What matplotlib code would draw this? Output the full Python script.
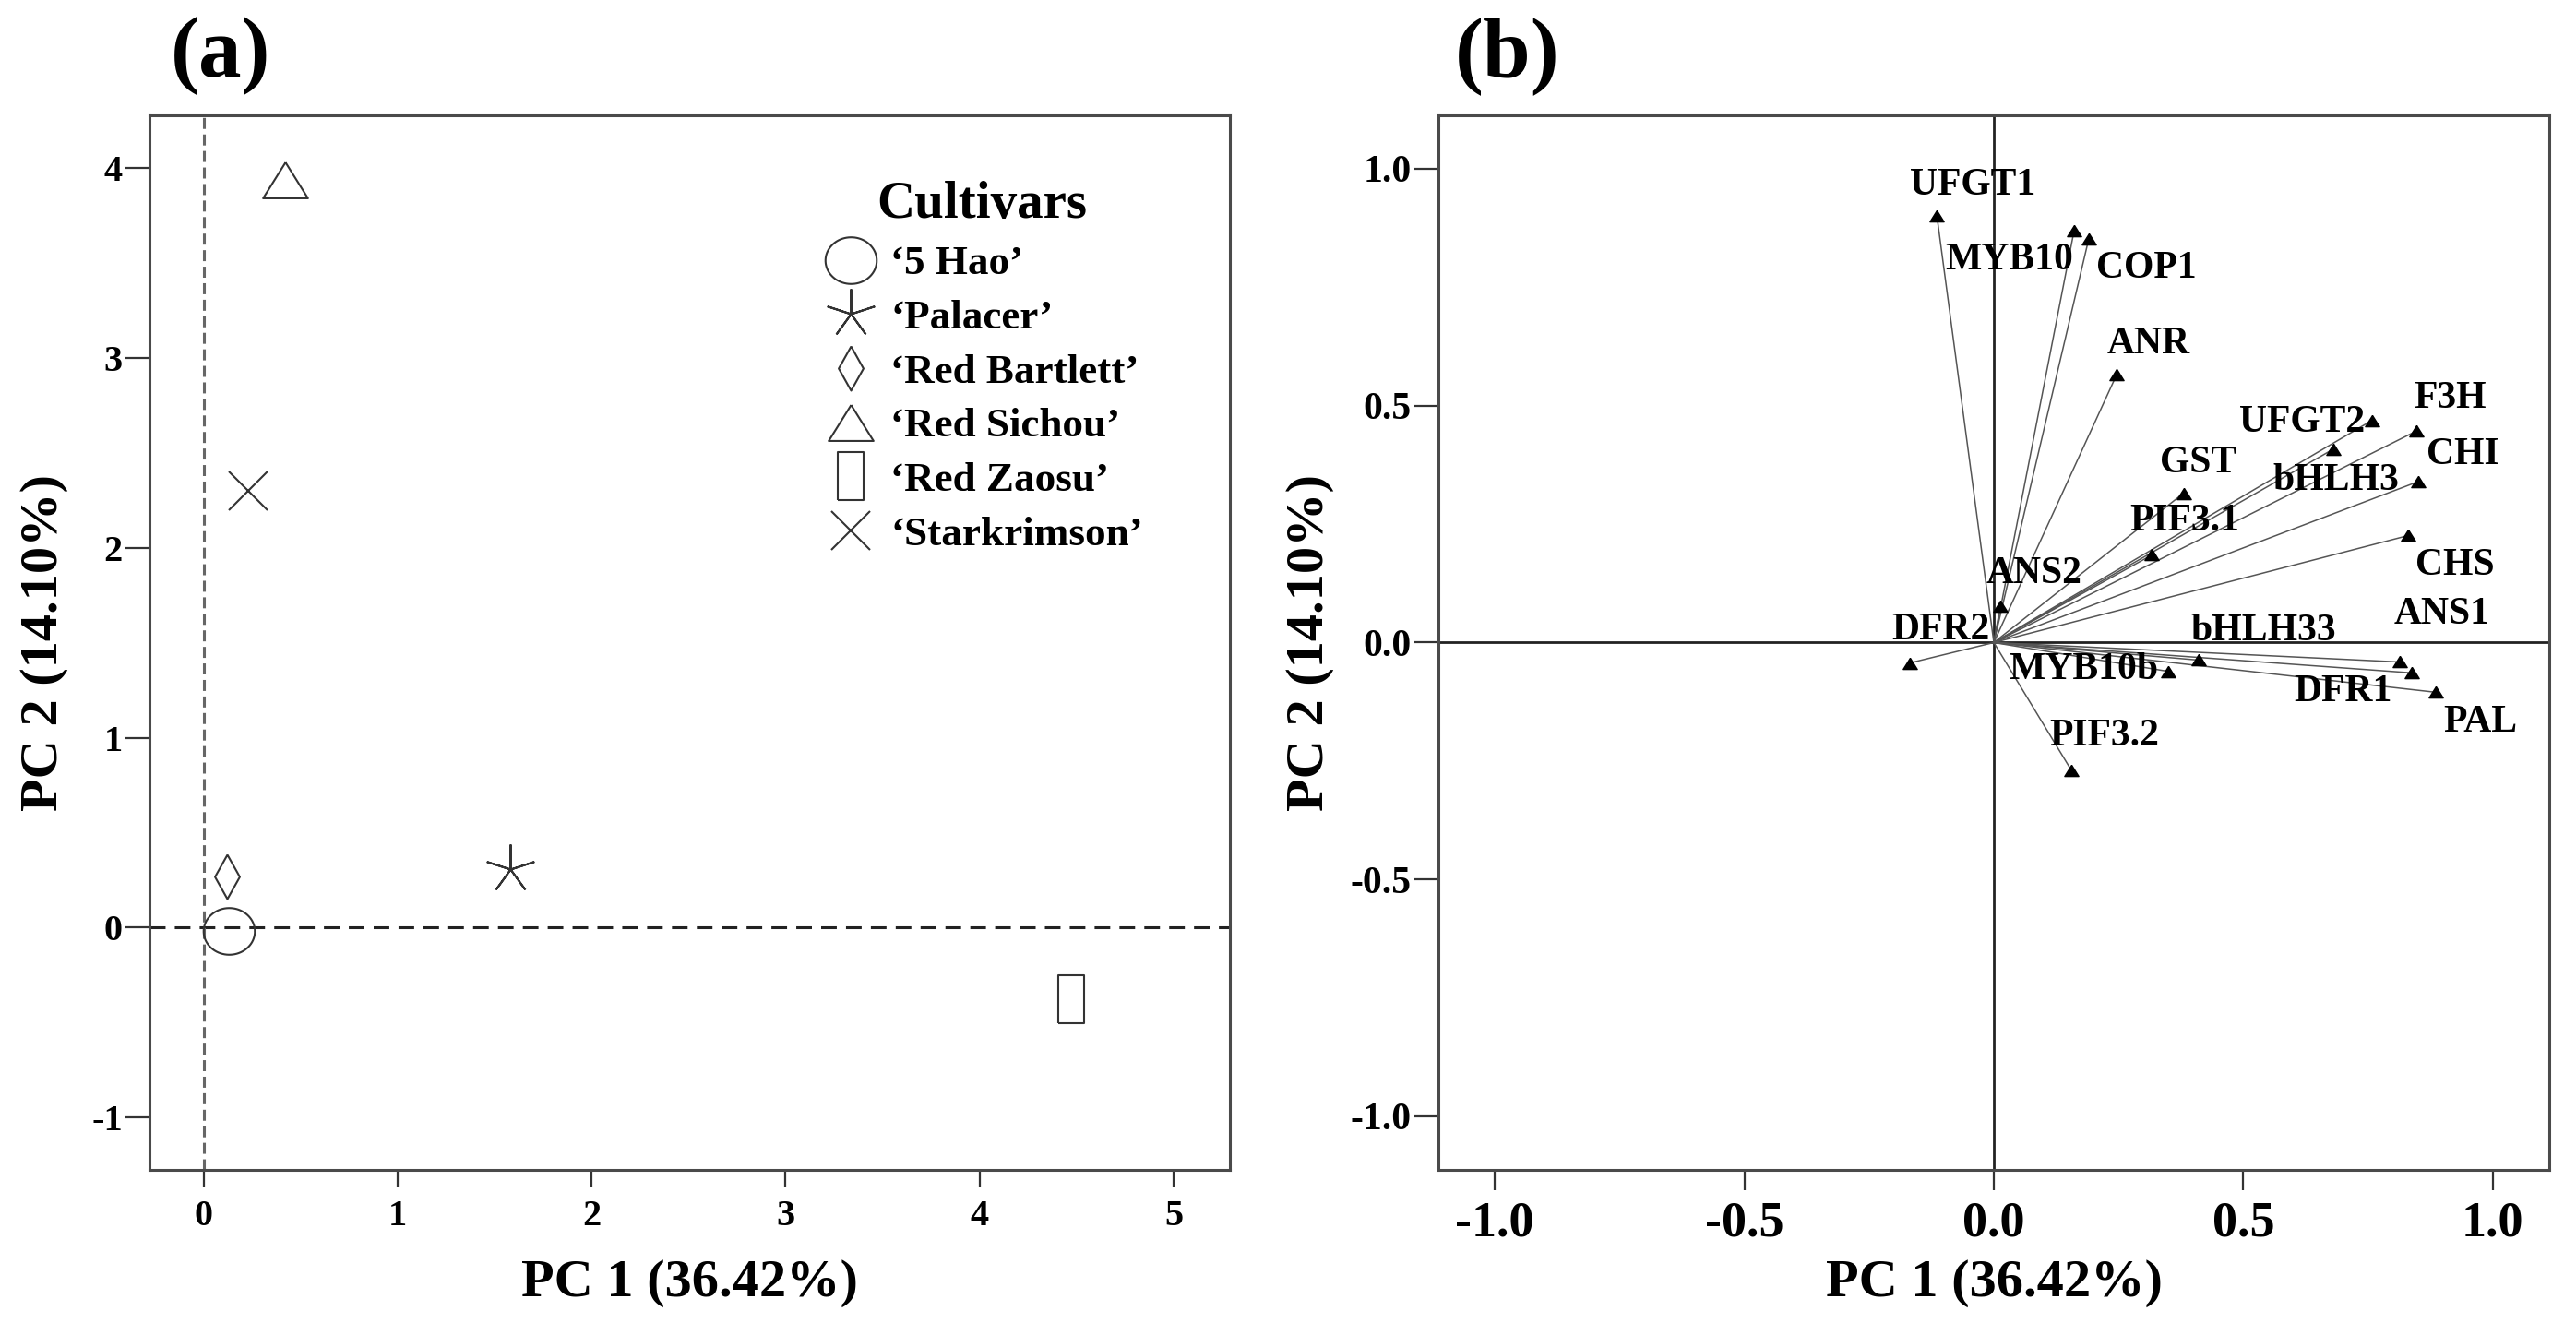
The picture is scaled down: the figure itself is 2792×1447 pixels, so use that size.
import numpy as np
import matplotlib
matplotlib.use("Agg")
import matplotlib.pyplot as plt
from matplotlib.ticker import FormatStrFormatter, MultipleLocator


# (a) cultivar scores on PC1 / PC2
CULTIVARS = ["\u20185 Hao\u2019", "\u2018Palacer\u2019", "\u2018Red Bartlett\u2019",
             "\u2018Red Sichou\u2019", "\u2018Red Zaosu\u2019", "\u2018Starkrimson\u2019"]
PC1_SCORES = [0.13, 1.58, 0.12, 0.42, 4.47, 0.23]
PC2_SCORES = [-0.02, 0.31, 0.27, 3.94, -0.38, 2.30]

# (b) gene loadings on PC1 / PC2
GENES = ["UFGT1", "MYB10", "COP1", "ANR", "UFGT2", "bHLH3", "F3H", "CHI", "CHS",
         "GST", "PIF3.1", "ANS2", "DFR2", "bHLH33", "MYB10b", "ANS1", "DFR1",
         "PAL", "PIF3.2"]
PC1_LOADINGS = [-0.114, 0.161, 0.190, 0.246, 0.758, 0.680, 0.846, 0.851, 0.831,
                0.380, 0.317, 0.013, -0.168, 0.410, 0.350, 0.813, 0.837, 0.886, 0.155]
PC2_LOADINGS = [0.900, 0.870, 0.851, 0.565, 0.469, 0.408, 0.446, 0.340, 0.226,
                0.315, 0.185, 0.077, -0.043, -0.037, -0.061, -0.041, -0.064, -0.105, -0.269]

X_LABEL = "PC 1 (36.42%)"
Y_LABEL = "PC 2 (14.10%)"

# where each gene name sits relative to its arrow tip (data units)
LABEL_OFFSETS = {
    "UFGT1": (0.071, 0.064), "MYB10": (-0.131, -0.063), "COP1": (0.115, -0.062),
    "ANR": (0.064, 0.065), "UFGT2": (-0.141, -0.004), "bHLH3": (0.005, -0.067),
    "F3H": (0.069, 0.068), "CHI": (0.089, 0.057), "CHS": (0.094, -0.064),
    "GST": (0.030, 0.064), "PIF3.1": (0.066, 0.071), "ANS2": (0.067, 0.067),
    "DFR2": (0.061, 0.070), "bHLH33": (0.130, 0.061), "MYB10b": (-0.170, 0.003),
    "ANS1": (0.085, 0.100), "DFR1": (-0.137, -0.040), "PAL": (0.089, -0.063),
    "PIF3.2": (0.067, 0.071),
}

plt.rcParams["font.family"] = ["Liberation Serif", "DejaVu Serif"]
plt.rcParams["font.weight"] = "bold"
plt.rcParams["axes.labelweight"] = "bold"
plt.rcParams["axes.unicode_minus"] = False
plt.rcParams["lines.scale_dashes"] = False

EDGE = "#333333"
SPINE = "#4a4a4a"

t = np.linspace(0, 2 * np.pi, 80)
ellipse = np.column_stack([np.cos(t), 0.91 * np.sin(t)])
triangle = [(0, 0.8), (-1, -0.8), (1, -0.8), (0, 0.8)]
diamond = [(0, 1), (0.56, 0), (0, -1), (-0.56, 0), (0, 1)]
rectangle = [(-0.55, -1), (0.55, -1), (0.55, 1), (-0.55, 1), (-0.55, -1)]

cultivar_markers = [ellipse, (5, 2, 0), diamond, triangle, rectangle, "x"]
cultivar_sizes = [40, 39, 34.5, 35, 37, 30]


def style_axes(ax):
    for sp in ax.spines.values():
        sp.set_color(SPINE)
        sp.set_linewidth(2.2)


fig = plt.figure(figsize=(27.92, 14.47), dpi=100)
ax1 = fig.add_axes([0.058, 0.1237, 0.4194, 0.790])
ax2 = fig.add_axes([0.5584, 0.1237, 0.4312, 0.790])

# ---- panel (a) ----
ax1.axhline(0, color="#222222", lw=2.2, dashes=(12.2, 7.2), zorder=1)
ax1.axvline(0, color="#666666", lw=2.2, dashes=(8.6, 4.3), zorder=1)
for name, x, y, m, s in zip(CULTIVARS, PC1_SCORES, PC2_SCORES, cultivar_markers, cultivar_sizes):
    ax1.plot([x], [y], linestyle="none", marker=m, markersize=s,
             markerfacecolor="none", markeredgecolor=EDGE, markeredgewidth=1.5,
             label=name, zorder=3)

ax1.set_xlim(-0.28, 5.29)
ax1.set_ylim(-1.277, 4.28)
ax1.xaxis.set_major_locator(MultipleLocator(1))
ax1.yaxis.set_major_locator(MultipleLocator(1))
ax1.tick_params(axis="x", length=14, width=1.6, color=EDGE, labelsize=29, pad=9)
ax1.tick_params(axis="y", length=19, width=1.6, color=EDGE, labelsize=29, pad=2)
ax1.set_xlabel(X_LABEL, fontsize=42, fontweight="bold")
ax1.set_ylabel(Y_LABEL, fontsize=42, fontweight="bold")
ax1.xaxis.set_label_coords(0.5, -0.085)
ax1.yaxis.set_label_coords(-0.075, 0.5)
style_axes(ax1)

ax1.legend(title="Cultivars", loc="upper left", bbox_to_anchor=(0.6217, 0.938),
           frameon=False, fontsize=32.5, title_fontsize=41, handlelength=1.4,
           handletextpad=0.27, labelspacing=0.40, borderpad=0, borderaxespad=0,
           numpoints=1)

# ---- panel (b) ----
ax2.axhline(0, color="#222222", lw=2.0, zorder=1)
ax2.axvline(0, color="#222222", lw=2.0, zorder=1)
for g, x, y in zip(GENES, PC1_LOADINGS, PC2_LOADINGS):
    ax2.plot([0, x], [0, y], color="#555555", lw=1.1, zorder=2)
    ax2.plot([x], [y], linestyle="none", marker=triangle, markersize=11,
             color="black", zorder=3)
    dx, dy = LABEL_OFFSETS[g]
    ax2.text(x + dx, y + dy, g, fontsize=30, ha="center", va="center", zorder=4)

ax2.set_xlim(-1.113, 1.113)
ax2.set_ylim(-1.113, 1.113)
ax2.xaxis.set_major_locator(MultipleLocator(0.5))
ax2.yaxis.set_major_locator(MultipleLocator(0.5))
ax2.xaxis.set_major_formatter(FormatStrFormatter("%.1f"))
ax2.yaxis.set_major_formatter(FormatStrFormatter("%.1f"))
ax2.tick_params(axis="x", length=16, width=1.6, color=EDGE, labelsize=39, pad=8)
ax2.tick_params(axis="y", length=19, width=1.6, color=EDGE, labelsize=30, pad=2)
ax2.set_xlabel(X_LABEL, fontsize=42, fontweight="bold")
ax2.set_ylabel(Y_LABEL, fontsize=42, fontweight="bold")
ax2.xaxis.set_label_coords(0.5, -0.085)
ax2.yaxis.set_label_coords(-0.094, 0.5)
style_axes(ax2)

fig.text(0.0856, 0.958, "(a)", fontsize=67, ha="center", va="center")
fig.text(0.585, 0.958, "(b)", fontsize=67, ha="center", va="center")

fig.savefig("out.png", dpi=100, facecolor="white")
